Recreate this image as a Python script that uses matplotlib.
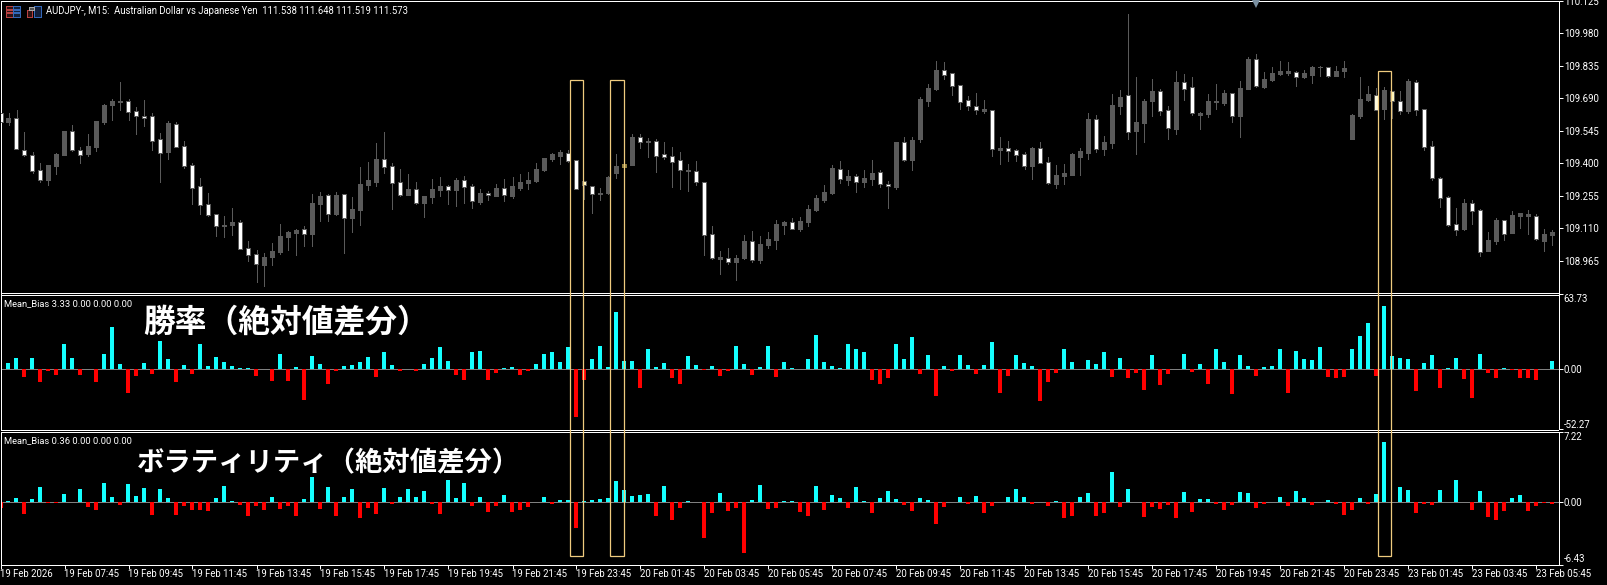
import matplotlib
matplotlib.use("Agg")
import matplotlib.pyplot as plt
from matplotlib.patches import Rectangle
from matplotlib.transforms import blended_transform_factory

W, H = 1607, 585

opens = [
109.622,109.584,109.600,109.461,109.435,109.368,109.325,109.387,109.436,109.542,
109.461,109.441,109.472,109.584,109.660,109.675,109.676,109.631,109.613,109.609,
109.506,109.450,109.575,109.475,109.390,109.296,109.216,109.171,109.119,109.123,
109.137,109.023,108.992,108.944,108.980,109.003,109.070,109.089,109.104,109.083,
109.217,109.256,109.172,109.260,109.155,109.190,109.302,109.315,109.418,109.387,
109.314,109.257,109.284,109.222,109.248,109.280,109.296,109.280,109.327,109.296,
109.226,109.265,109.253,109.287,109.253,109.289,109.311,109.320,109.369,109.418,
109.432,109.447,109.412,109.321,109.299,109.262,109.265,109.356,109.382,109.391,
109.515,109.496,109.497,109.439,109.430,109.412,109.365,109.363,109.318,109.082,
108.971,108.974,108.958,108.974,109.050,108.967,109.034,109.056,109.123,109.137,
109.105,109.137,109.190,109.235,109.266,109.372,109.325,109.341,109.315,109.329,
109.359,109.309,109.293,109.493,109.414,109.508,109.678,109.731,109.815,109.801,
109.748,109.681,109.654,109.633,109.636,109.458,109.466,109.457,109.439,109.387,
109.466,109.403,109.307,109.342,109.347,109.427,109.445,109.596,109.463,109.490,
109.655,109.703,109.543,109.579,109.678,109.721,109.636,109.552,109.761,109.739,
109.615,109.619,109.675,109.669,109.712,109.610,109.731,109.864,109.740,109.771,
109.798,109.803,109.806,109.785,109.794,109.828,109.828,109.789,109.812,109.508,
109.610,109.682,109.706,109.642,109.724,109.676,109.633,109.761,109.640,109.475,
109.332,109.247,109.126,109.105,109.220,109.189,109.007,109.052,109.144,109.087,
109.163,109.163,109.166,109.052,109.079]
closes = [
109.585,109.602,109.464,109.435,109.366,109.326,109.391,109.441,109.543,109.458,
109.438,109.476,109.588,109.660,109.678,109.678,109.630,109.612,109.603,109.500,
109.447,109.579,109.473,109.388,109.290,109.214,109.169,109.120,109.122,109.137,
109.017,108.991,108.950,108.980,109.006,109.074,109.092,109.101,109.085,109.222,
109.253,109.174,109.257,109.156,109.195,109.307,109.325,109.418,109.384,109.312,
109.259,109.284,109.222,109.253,109.284,109.298,109.281,109.325,109.295,109.232,
109.266,109.256,109.289,109.256,109.298,109.315,109.325,109.374,109.423,109.441,
109.450,109.411,109.286,109.301,109.263,109.265,109.338,109.387,109.396,109.517,
109.496,109.499,109.433,109.429,109.406,109.371,109.368,109.317,109.079,108.976,
108.980,108.959,108.976,109.052,108.967,109.038,109.061,109.128,109.137,109.107,
109.141,109.195,109.244,109.271,109.378,109.330,109.342,109.317,109.333,109.356,
109.308,109.299,109.494,109.414,109.503,109.686,109.736,109.816,109.795,109.746,
109.675,109.657,109.639,109.642,109.464,109.467,109.456,109.438,109.388,109.467,
109.402,109.312,109.347,109.356,109.441,109.454,109.597,109.464,109.494,109.660,
109.695,109.540,109.584,109.678,109.722,109.634,109.558,109.762,109.733,109.624,
109.624,109.678,109.678,109.713,109.612,109.736,109.865,109.746,109.776,109.803,
109.812,109.812,109.786,109.803,109.830,109.831,109.789,109.812,109.825,109.615,
109.686,109.709,109.639,109.727,109.676,109.634,109.767,109.639,109.473,109.335,
109.245,109.123,109.102,109.222,109.187,109.004,109.056,109.146,109.085,109.168,
109.177,109.172,109.062,109.083,109.092]
highs = [
109.622,109.625,109.637,109.539,109.448,109.400,109.391,109.444,109.543,109.569,
109.472,109.529,109.588,109.664,109.686,109.762,109.689,109.651,109.682,109.624,
109.534,109.588,109.584,109.499,109.400,109.333,109.266,109.171,109.164,109.199,
109.146,109.050,109.010,108.998,109.043,109.128,109.096,109.105,109.119,109.262,
109.271,109.262,109.271,109.262,109.248,109.382,109.405,109.490,109.539,109.400,
109.374,109.351,109.315,109.253,109.329,109.338,109.302,109.333,109.342,109.307,
109.284,109.275,109.307,109.329,109.338,109.351,109.360,109.400,109.423,109.445,
109.459,109.459,109.412,109.321,109.299,109.289,109.342,109.441,109.396,109.530,
109.530,109.512,109.506,109.494,109.472,109.450,109.397,109.409,109.318,109.119,
109.007,109.020,108.989,109.079,109.096,109.074,109.092,109.146,109.141,109.155,
109.159,109.213,109.257,109.302,109.391,109.409,109.369,109.351,109.369,109.414,
109.369,109.320,109.494,109.517,109.517,109.695,109.754,109.856,109.852,109.801,
109.748,109.700,109.713,109.682,109.636,109.517,109.499,109.463,109.450,109.472,
109.494,109.427,109.391,109.396,109.445,109.466,109.624,109.615,109.521,109.709,
109.727,110.066,109.785,109.686,109.776,109.731,109.655,109.812,109.798,109.785,
109.627,109.709,109.754,109.727,109.712,109.767,109.873,109.888,109.807,109.830,
109.856,109.852,109.812,109.816,109.834,109.834,109.830,109.834,109.856,109.619,
109.785,109.745,109.736,109.740,109.724,109.722,109.776,109.771,109.640,109.499,
109.338,109.253,109.199,109.239,109.235,109.195,109.092,109.155,109.146,109.186,
109.177,109.190,109.172,109.105,109.101]
lows = [
109.578,109.572,109.464,109.430,109.357,109.317,109.302,109.351,109.436,109.455,
109.400,109.432,109.454,109.575,109.593,109.637,109.593,109.530,109.566,109.458,
109.315,109.418,109.472,109.380,109.217,109.172,109.165,109.074,109.070,109.079,
109.017,108.962,108.868,108.851,108.944,108.994,109.011,108.989,109.029,109.029,
109.141,109.141,109.168,108.998,109.092,109.123,109.280,109.298,109.356,109.195,
109.253,109.257,109.217,109.159,109.222,109.253,109.217,109.208,109.222,109.199,
109.217,109.235,109.253,109.231,109.244,109.280,109.284,109.315,109.365,109.409,
109.396,109.405,109.286,109.239,109.177,109.235,109.262,109.333,109.382,109.391,
109.467,109.427,109.360,109.418,109.293,109.284,109.275,109.302,108.989,108.971,
108.904,108.949,108.877,108.971,108.958,108.953,109.020,109.016,109.083,109.105,
109.096,109.119,109.186,109.226,109.262,109.311,109.302,109.271,109.293,109.302,
109.293,109.199,109.284,109.409,109.369,109.494,109.655,109.727,109.776,109.704,
109.642,109.637,109.619,109.624,109.432,109.396,109.409,109.409,109.374,109.329,
109.400,109.307,109.289,109.307,109.347,109.347,109.418,109.450,109.436,109.467,
109.619,109.508,109.441,109.494,109.610,109.615,109.508,109.530,109.682,109.615,
109.552,109.606,109.642,109.660,109.584,109.517,109.731,109.740,109.736,109.767,
109.794,109.794,109.745,109.780,109.758,109.789,109.785,109.789,109.785,109.508,
109.602,109.678,109.639,109.597,109.602,109.619,109.624,109.615,109.458,109.325,
109.204,109.119,109.079,109.101,109.128,108.985,109.007,109.038,109.056,109.087,
109.110,109.083,109.056,109.007,109.034]

win_rate_diff = [
0,5.2,9.5,-7.5,9.5,-11.8,-2.3,-5.8,20.8,9.5,
-5.8,0,-11.8,13.0,35.5,4.3,-20.5,-6.6,5.2,-4.9,
23.4,8.7,-11.8,3.5,-4.9,21.6,2.6,10.4,6.1,2.6,
0.9,0.9,-6.6,0,-11.0,13.0,-11.0,1.7,-26.6,11.3,
4.3,-13.6,-2.3,2.6,3.5,6.1,10.4,-7.5,14.7,3.5,
-2.3,0,-2.3,4.3,9.5,19.0,6.9,-5.8,-10.1,13.9,
15.6,-10.1,-4.0,0.9,1.7,-5.8,-2.3,4.3,13.0,13.9,
6.1,19.0,-41.8,-10.1,8.7,19.9,1.7,48.5,6.9,6.9,
-16.7,16.5,1.4,5.2,-8.1,-13.3,11.3,3.5,-1.2,2.6,
-6.6,-2.3,19.9,4.3,-5.8,1.7,19.9,-7.5,6.1,0.9,
0,8.7,28.6,6.1,2.6,0.9,21.6,17.3,14.7,-10.1,
-13.3,-8.1,20.8,8.7,26.8,-4.6,12.1,-23.1,2.6,-2.3,
12.1,3.5,-4.6,3.5,22.5,-21.1,-6.6,12.1,5.2,2.6,
-27.4,-11.8,-4.0,16.5,6.1,0,7.8,4.3,14.7,-7.5,
9.5,-8.4,-4.0,-17.9,12.1,-14.4,-4.9,0,13.0,-3.2,
4.3,-13.3,16.5,6.1,-21.4,12.1,2.6,-6.6,1.7,2.6,
17.3,-20.5,15.6,8.7,7.8,18.2,-7.5,-8.4,-7.5,17.3,
27.7,39.0,-6.6,53.7,11.3,9.5,8.7,-18.8,5.2,12.1,
-16.2,0.9,9.5,-9.2,-24.8,13.0,-4.0,-8.4,0.9,-1.4,
-8.4,-8.4,-10.1,0,6.9]

volatility_diff = [
-0.62,0.10,0.41,-1.28,0.31,1.55,-0.14,-0.14,0.83,0,
1.34,-0.55,-0.86,1.97,0.52,-0.34,1.86,0.62,1.45,-1.38,
1.34,0.41,-1.38,-0.45,-0.86,-0.86,-0.97,0.41,1.66,0.10,
-0.31,-1.48,-0.45,-0.86,0.52,-0.76,-0.45,-1.48,0.31,2.59,
-0.76,1.55,-1.48,0.52,1.34,-1.69,-0.66,-1.28,1.45,-0.21,
0.52,1.34,0.52,1.14,-0.21,-1.28,2.28,0.41,1.97,-0.45,
0.52,-1.07,-0.45,0.72,-1.07,-0.86,-0.55,0,0.52,-0.21,
0.21,0.21,-2.72,0.10,0.21,0.31,0.41,2.17,1.24,0.62,
0.72,0.83,-1.48,1.66,-1.90,-0.66,0.10,0,-3.66,-1.17,
0.93,-0.97,-0.66,-5.21,0.21,1.76,-0.76,-0.66,0.10,0.10,
-1.07,-1.48,1.66,-0.86,0.72,0.41,-0.66,1.55,0.10,-1.17,
0.41,1.14,0.31,-0.34,-0.97,0.41,0.21,-2.31,-0.55,0,
0.52,-0.21,0.62,-1.17,-0.45,0,0.52,1.34,0.52,-0.24,
0,-0.45,0.10,-1.69,-1.48,0.52,0.93,-1.48,-1.17,3.10,
-0.55,1.34,0,-1.59,-0.55,-0.76,-0.34,-1.69,1.03,-1.07,
0.31,0.31,-0.21,-0.86,-0.34,1.03,0.93,-0.66,-0.24,0,
0.52,-0.45,1.14,0.41,-0.34,0,0.21,-0.21,-1.38,-0.86,
0.41,-0.21,0.83,6.10,0,1.55,1.24,-1.17,-0.21,-0.31,
1.24,0,2.28,0,-0.86,1.14,-1.59,-1.90,-0.97,0.41,
0.72,-0.97,-0.45,-0.10,-0.21]

x_tick_bars = [0,8,16,24,32,40,48,56,64,72,80,88,96,104,112,120,128,136,144,152,160,168,176,184,192]
x_tick_labels = ["19 Feb 2026","19 Feb 07:45","19 Feb 09:45","19 Feb 11:45","19 Feb 13:45",
    "19 Feb 15:45","19 Feb 17:45","19 Feb 19:45","19 Feb 21:45","19 Feb 23:45",
    "20 Feb 01:45","20 Feb 03:45","20 Feb 05:45","20 Feb 07:45","20 Feb 09:45",
    "20 Feb 11:45","20 Feb 13:45","20 Feb 15:45","20 Feb 17:45","20 Feb 19:45",
    "20 Feb 21:45","20 Feb 23:45","23 Feb 01:45","23 Feb 03:45","23 Feb 05:45"]
price_ticks = [110.125,109.980,109.835,109.690,109.545,109.400,109.255,109.110,108.965]
win_ticks = [63.73,0.0,-52.27]
vol_ticks = [7.22,0.0,-6.43]
highlight_spans = [(71.2,72.8),(76.2,78.0),(172.2,173.8)]
highlight_tops = [80,80,71]

GRAY = "#5A5A5A"
CYAN = "#14FFFF"
RED = "#FF0000"
GOLD = "#EFCB7F"
FONT = "Roboto"
LW = 0.72
TS = 6.9
tint = {73:"#FFF8C4",78:"#8F7F3E",172:"#FFFBDC",174:"#FFF8C0"}

fig = plt.figure(figsize=(W/100,H/100),dpi=100,facecolor="black")

def box(top,bottom,right=1558.5,left=0.5):
    return [left/W,1-bottom/H,(right-left)/W,(bottom-top)/H]

def style(ax,ticks,fmt):
    ax.set_facecolor("black")
    for s in ax.spines.values():
        s.set_color("white"); s.set_linewidth(LW)
    ax.yaxis.tick_right()
    ax.set_yticks(ticks,[fmt%t for t in ticks])
    ax.tick_params(axis="y",colors="white",length=3,width=LW,pad=0.8,labelsize=TS)
    ax.set_xticks([])
    ax.set_xlim(-0.0,194.75)
    for lab in ax.get_yticklabels():
        lab.set_fontfamily(FONT)

ax_p = fig.add_axes(box(0.5,292.5))
ax_w = fig.add_axes(box(294.5,429.5))
ax_v = fig.add_axes(box(431.5,564.5))
style(ax_p,price_ticks,"%.3f")
style(ax_w,win_ticks,"%.2f")
style(ax_v,vol_ticks,"%.2f")
ax_p.set_ylim(108.822,110.127)
ax_w.set_ylim(-52.27,63.73)
ax_v.set_ylim(-6.43,7.22)

for i,(o,h,l,c) in enumerate(zip(opens,highs,lows,closes)):
    bear = c<o
    ax_p.vlines(i,l,h,color=GRAY,lw=LW,antialiased=False,zorder=2)
    face = tint.get(i,"white" if bear else GRAY)
    edge = tint.get(i,GRAY) if not bear else GRAY
    ax_p.bar(i,abs(c-o),bottom=min(o,c),width=0.5,facecolor=face,edgecolor=edge,
             linewidth=LW,antialiased=False,zorder=3)

for ax,vals in ((ax_w,win_rate_diff),(ax_v,volatility_diff)):
    ax.axhline(0,color="#808080",lw=LW,antialiased=False,zorder=1)
    ax.bar(range(len(vals)),vals,width=0.5,
           color=[CYAN if v>=0 else RED for v in vals],antialiased=False,zorder=2)

labs=ax_w.get_yticklabels(); labs[0].set_va("top"); labs[2].set_va("bottom")
labs=ax_v.get_yticklabels(); labs[0].set_va("top"); labs[2].set_va("bottom")

ax_v.set_xticks(x_tick_bars,x_tick_labels)
ax_v.tick_params(axis="x",colors="white",length=3,width=LW,pad=0.5,labelsize=TS)
for lab in ax_v.get_xticklabels():
    lab.set_ha("left"); lab.set_fontfamily(FONT)

trans = blended_transform_factory(ax_p.transData,fig.transFigure)
for (a,b),top in zip(highlight_spans,highlight_tops):
    fig.add_artist(Rectangle((a,1-556/H),b-a,(556-top)/H,transform=trans,fill=False,
                             edgecolor=GOLD,linewidth=0.9,zorder=10))

ax_p.plot([156.9],[110.127],marker="v",ms=10,color="#7A8FA0",mew=0,clip_on=False,zorder=6)

def px_text(x,y,s,**kw):
    fig.text(x/W,1-y/H,s,color="white",va="center",zorder=12,**kw)

px_text(46.5,11.5,"AUDJPY-, M15:  Australian Dollar vs Japanese Yen  111.538 111.648 111.519 111.573",
        fontsize=6.85,family=FONT)
px_text(4,303.5,"Mean_Bias 3.33 0.00 0.00 0.00",fontsize=6.75,family=FONT)
px_text(4,440.5,"Mean_Bias 0.36 0.00 0.00 0.00",fontsize=6.75,family=FONT)
px_text(143,323,"勝率（絶対値差分）",fontsize=22.9,family="Noto Sans CJK JP",weight="bold")
px_text(137,463,"ボラティリティ（絶対値差分）",fontsize=19.7,family="Noto Sans CJK JP",weight="bold")

def icon(x,y,w,h,c,fill=None):
    fig.add_artist(Rectangle((x/W,1-(y+h)/H),w/W,h/H,transform=fig.transFigure,
        fill=fill is not None,facecolor=fill,edgecolor=c,linewidth=LW,antialiased=False,zorder=11))
R,B = "#B84040","#3468B8"
icon(5.5,6.5,7,10,R,"#2E1212"); icon(12.5,6.5,7,10,B,"#121F3A")
for yy in (9.5,12.5):
    icon(5.5,yy,7,0.1,R); icon(12.5,yy,7,0.1,B)
icon(26.5,9.5,5,7,R,"#2E1212"); icon(33.5,6.5,7,10,B,"#121F3A"); icon(29.5,6.5,5,3,"#A8A8A8","#505050")

fig.savefig("out.png",dpi=100,facecolor="black")
